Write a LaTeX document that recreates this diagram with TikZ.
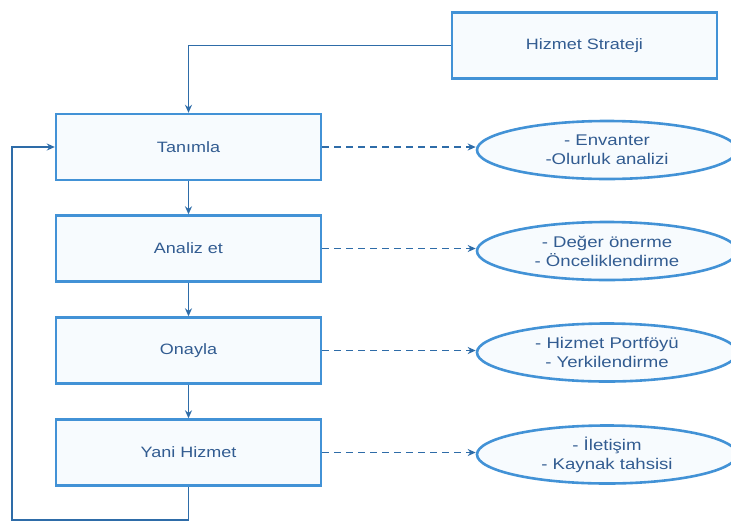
\documentclass[tikz,border=0pt]{standalone}
\usepackage{fontspec}
\setmainfont[FakeStretch=1.2]{Liberation Sans}
\usetikzlibrary{shapes.geometric,arrows.meta}
\definecolor{boxline}{RGB}{66,146,214}
\definecolor{boxfill}{RGB}{247,251,254}
\definecolor{textc}{RGB}{50,92,145}
\definecolor{linec}{RGB}{46,108,168}
\tikzset{
  stepbox/.style={draw=boxline, fill=boxfill, line width=2.4pt,
    minimum width=265pt, minimum height=66pt, inner sep=0pt,
    text=textc, font=\fontsize{15}{18}\selectfont},
  notebubble/.style={ellipse, draw=boxline, fill=boxfill, line width=2.6pt,
    minimum width=260pt, minimum height=58pt, inner sep=0pt,
    text=textc, align=center, font=\fontsize{15.5}{19}\selectfont},
  flow/.style={draw=linec, line width=1.5pt, -{Stealth[length=8pt,width=7pt]}},
  link/.style={flow, dash pattern=on 7pt off 5pt}
}
\begin{document}
\begin{tikzpicture}[x=1pt,y=-1pt]
\useasboundingbox (0,0) rectangle (731,523);

% main process steps
\node[stepbox] (strat) at (584.5,45.5) {Hizmet Strateji};
\node[stepbox] (tan) at (188.5,147) {Tanımla};
\node[stepbox] (ana) at (188.5,248.5) {Analiz et};
\node[stepbox] (ona) at (188.5,350.5) {Onayla};
\node[stepbox] (yan) at (188.5,452.5) {Yani Hizmet};

% outputs of each step
\node[notebubble] (e1) at (607,150) {- Envanter\\-Olurluk analizi};
\node[notebubble] (e2) at (607,251) {- Değer önerme\\- Önceliklendirme};
\node[notebubble] (e3) at (607,352.5) {- Hizmet Portföyü\\- Yerkilendirme};
\node[notebubble] (e4) at (607,454.5) {- İletişim\\- Kaynak tahsisi};

% loop corner points
\coordinate (lb) at (188.5,520);
\coordinate (ll) at (12,520);
\coordinate (lt) at (12,147);

% connectors
\draw[flow] (strat.west) -| (tan.north);
\draw[flow] (tan) -- (ana);
\draw[flow] (ana) -- (ona);
\draw[flow] (ona) -- (yan);
\draw[flow] (yan.south) -- (lb) -- (ll) -- (lt) -- (tan.west);

\draw[link] (tan.east) -- (e1.west |- tan.east);
\draw[link] (ana.east) -- (e2.west |- ana.east);
\draw[link] (ona.east) -- (e3.west |- ona.east);
\draw[link] (yan.east) -- (e4.west |- yan.east);
\end{tikzpicture}
\end{document}
